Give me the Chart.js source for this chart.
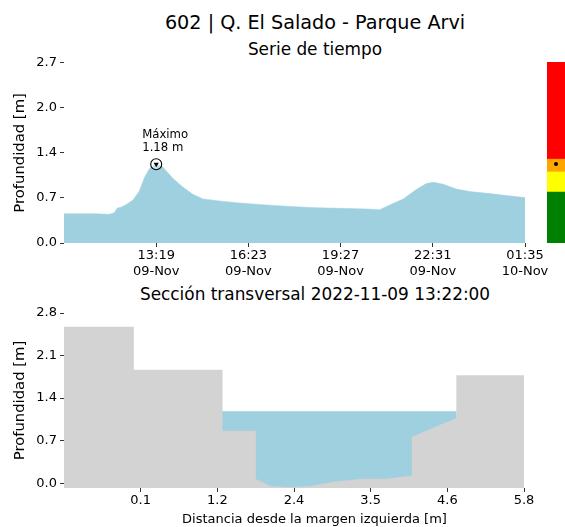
<!DOCTYPE html>
<html>
<head>
<meta charset="utf-8">
<script src="https://cdn.jsdelivr.net/npm/chart.js@4.4.1/dist/chart.umd.min.js"></script>
<style>
  body { margin: 0; width: 565px; height: 527px; overflow: hidden; background: #fff; position: relative; font-family: "DejaVu Sans", sans-serif; color: #000; }
  .title { position: absolute; left: 65px; width: 500px; text-align: center; white-space: nowrap; }
  .box { position: absolute; }
</style>
</head>
<body>
<div class="title" style="top:11px; font-size:19.2px; line-height:24px;">602 | Q. El Salado - Parque Arvi</div>
<div class="title" style="top:39px; font-size:16.9px; line-height:20px;">Serie de tiempo</div>
<div class="title" style="top:284px; font-size:16.9px; line-height:20px;">Sección transversal 2022-11-09 13:22:00</div>

<div class="box" style="left:0; top:52px;"><canvas id="seriesChart" width="565" height="238"></canvas></div>
<div class="box" style="left:547px; top:62px;"><canvas id="levelChart" width="18" height="181"></canvas></div>
<div class="box" style="left:0; top:300px;"><canvas id="sectionChart" width="565" height="227"></canvas></div>

<script>
// time series (depth in m)
const times = ['10:15', '10:45', '11:15', '11:45', '11:55', '12:01', '12:10', '12:18', '12:32', '12:45',
               '12:55', '13:05', '13:19', '13:32', '13:52', '14:12', '14:32', '14:52', '15:25', '16:05',
               '16:58', '18:05', '18:38', '19:25', '20:18', '20:45', '21:05', '21:32', '21:58', '22:18',
               '22:32', '22:52', '23:18', '23:45', '00:25', '00:58', '01:35'];
const depth = [0.44, 0.44, 0.44, 0.43, 0.45, 0.52, 0.54, 0.57, 0.64, 0.77,
               0.97, 1.11, 1.18, 1.14, 0.97, 0.84, 0.73, 0.66, 0.63, 0.60,
               0.57, 0.54, 0.53, 0.52, 0.51, 0.50, 0.57, 0.66, 0.80, 0.89,
               0.91, 0.88, 0.81, 0.77, 0.74, 0.71, 0.68];
const xTickTimes = ['13:19', '16:23', '19:27', '22:31', '01:35'];
const xTickDays = ['09-Nov', '09-Nov', '09-Nov', '09-Nov', '10-Nov'];
const yTicks = [0, 0.675, 1.35, 2.025, 2.7];
const yTickLabels = ['0.0', '0.7', '1.4', '2.0', '2.7'];
const peakTime = '13:19';
const peakDepth = 1.18;
const peakLabel = ['Máximo', '1.18 m'];

// alert levels (m)
const levelBounds = [0, 0.76, 1.06, 1.25, 2.7];
const levelColors = ['#008000', '#ffff00', '#ffa500', '#ff0000'];

// cross section
const groundX = [-1.1, -0.06, -0.06, 1.27, 1.27, 1.77, 1.77, 2.0, 2.3, 2.6, 2.94, 3.39, 3.75, 4.12, 4.12, 4.79, 4.79, 5.8];
const groundY = [2.57, 2.57, 1.86, 1.86, 0.86, 0.86, 0.07, -0.05, -0.07, -0.05, 0.02, 0.07, 0.07, 0.12, 0.76, 1.07, 1.77, 1.77];
const waterX = [1.27, 4.79];
const waterLevel = 1.18;
const secXTicks = [0.05, 1.2, 2.35, 3.5, 4.65, 5.8];
const secXTickLabels = ['0.1', '1.2', '2.4', '3.5', '4.6', '5.8'];
const secYTicks = [0, 0.7, 1.4, 2.1, 2.8];
const secYTickLabels = ['0.0', '0.7', '1.4', '2.1', '2.8'];

const WATER = '#9ed0df';
const GROUND = '#d3d3d3';

Chart.defaults.font.family = '"DejaVu Sans"';
Chart.defaults.font.size = 13;
Chart.defaults.color = '#000';
Chart.defaults.animation = false;
Chart.defaults.events = [];
Chart.defaults.layout.autoPadding = false;
Chart.defaults.plugins.legend.display = false;
Chart.defaults.plugins.tooltip.enabled = false;

function toOffset(t) {
    const [h, m] = t.split(':').map(Number);
    const start = 10 * 60 + 15;
    return (h * 60 + m - start + 1440) % 1440;
}

const tickGrid = { drawOnChartArea: false, drawTicks: true, tickLength: 4, color: '#333', lineWidth: 1 };
const yTitle = { display: true, text: 'Profundidad [m]', font: { size: 14.8 }, padding: { top: 11, bottom: 0 } };

// Draw the "Máximo" note next to the peak marker
const peakNote = {
    id: 'peakNote',
    afterDatasetsDraw(chart) {
        const x = chart.scales.x.getPixelForValue(toOffset(peakTime));
        const y = chart.scales.y.getPixelForValue(peakDepth);
        const ctx = chart.ctx;
        ctx.save();
        ctx.font = '11.7px "DejaVu Sans"';
        ctx.fillStyle = '#000';
        ctx.textBaseline = 'middle';
        ctx.textAlign = 'left';
        ctx.fillText(peakLabel[0], x - 14, y - 29);
        ctx.fillText(peakLabel[1], x - 14, y - 16);
        ctx.restore();
    }
};

const seriesChart = new Chart(document.getElementById('seriesChart'), {
    type: 'line',
    data: {
        datasets: [
            {
                data: [{ x: toOffset(peakTime), y: peakDepth }],
                pointStyle: 'triangle',
                rotation: 180,
                pointRadius: 3,
                pointBackgroundColor: '#000',
                pointBorderColor: '#000',
                pointBorderWidth: 0,
                showLine: false
            },
            {
                data: [{ x: toOffset(peakTime), y: peakDepth }],
                pointStyle: 'circle',
                pointRadius: 5.5,
                pointBackgroundColor: 'rgba(255,255,255,0.35)',
                pointBorderColor: '#000',
                pointBorderWidth: 1.1,
                showLine: false
            },
            {
                data: times.map((t, i) => ({ x: toOffset(t), y: depth[i] })),
                fill: 'start',
                backgroundColor: WATER,
                borderColor: WATER,
                borderWidth: 0.5,
                pointRadius: 0,
                tension: 0
            }
        ]
    },
    options: {
        responsive: false,
        layout: { padding: { top: 10, right: 40, left: 0, bottom: 0 } },
        scales: {
            x: {
                type: 'linear',
                min: 0,
                max: toOffset('01:35'),
                border: { display: false },
                grid: tickGrid,
                afterBuildTicks: scale => { scale.ticks = xTickTimes.map(t => ({ value: toOffset(t) })); },
                afterFit: scale => { scale.height = 47; },
                ticks: {
                    autoSkip: false,
                    maxRotation: 0,
                    padding: 1,
                    callback: (v, i) => [xTickTimes[i], xTickDays[i]]
                }
            },
            y: {
                min: 0,
                max: 2.7,
                border: { display: false },
                grid: tickGrid,
                afterBuildTicks: scale => { scale.ticks = yTicks.map(v => ({ value: v })); },
                afterFit: scale => { scale.width = 64; },
                ticks: { padding: 3, callback: (v, i) => yTickLabels[i] },
                title: yTitle
            }
        }
    },
    plugins: [peakNote]
});

// Alert level bar with the current level dot
const levelChart = new Chart(document.getElementById('levelChart'), {
    type: 'bar',
    data: {
        labels: [''],
        datasets: [
            {
                type: 'line',
                data: [peakDepth],
                showLine: false,
                pointRadius: 2,
                pointBackgroundColor: '#000',
                pointBorderWidth: 0,
                order: 0
            },
            ...levelColors.map((c, i) => ({
                data: [[levelBounds[i], levelBounds[i + 1]]],
                backgroundColor: c,
                borderWidth: 0,
                grouped: false,
                barPercentage: 1,
                categoryPercentage: 1,
                order: 1
            }))
        ]
    },
    options: {
        responsive: false,
        layout: { padding: 0 },
        scales: {
            x: { display: false },
            y: { display: false, min: 0, max: 2.7 }
        }
    }
});

const sectionChart = new Chart(document.getElementById('sectionChart'), {
    type: 'line',
    data: {
        datasets: [
            {
                data: groundX.map((x, i) => ({ x: x, y: groundY[i] })),
                fill: 'start',
                backgroundColor: GROUND,
                borderColor: GROUND,
                borderWidth: 0.5,
                pointRadius: 0,
                tension: 0
            },
            {
                data: waterX.map(x => ({ x: x, y: waterLevel })),
                fill: 'start',
                backgroundColor: WATER,
                borderColor: WATER,
                borderWidth: 0.5,
                pointRadius: 0,
                tension: 0
            }
        ]
    },
    options: {
        responsive: false,
        layout: { padding: { top: 13, right: 0, left: 0, bottom: 0 } },
        scales: {
            x: {
                type: 'linear',
                min: -1.1,
                max: 6.415,
                border: { display: false },
                grid: tickGrid,
                afterBuildTicks: scale => { scale.ticks = secXTicks.map(v => ({ value: v })); },
                afterFit: scale => { scale.height = 39; },
                ticks: { autoSkip: false, maxRotation: 0, padding: 1, callback: (v, i) => secXTickLabels[i] },
                title: { display: true, text: 'Distancia desde la margen izquierda [m]', font: { size: 13 }, padding: { top: 0, bottom: 0 } }
            },
            y: {
                min: -0.08,
                max: 2.8,
                border: { display: false },
                grid: tickGrid,
                afterBuildTicks: scale => { scale.ticks = secYTicks.map(v => ({ value: v })); },
                afterFit: scale => { scale.width = 64; },
                ticks: { padding: 3, callback: (v, i) => secYTickLabels[i] },
                title: yTitle
            }
        }
    }
});
</script>
</body>
</html>
